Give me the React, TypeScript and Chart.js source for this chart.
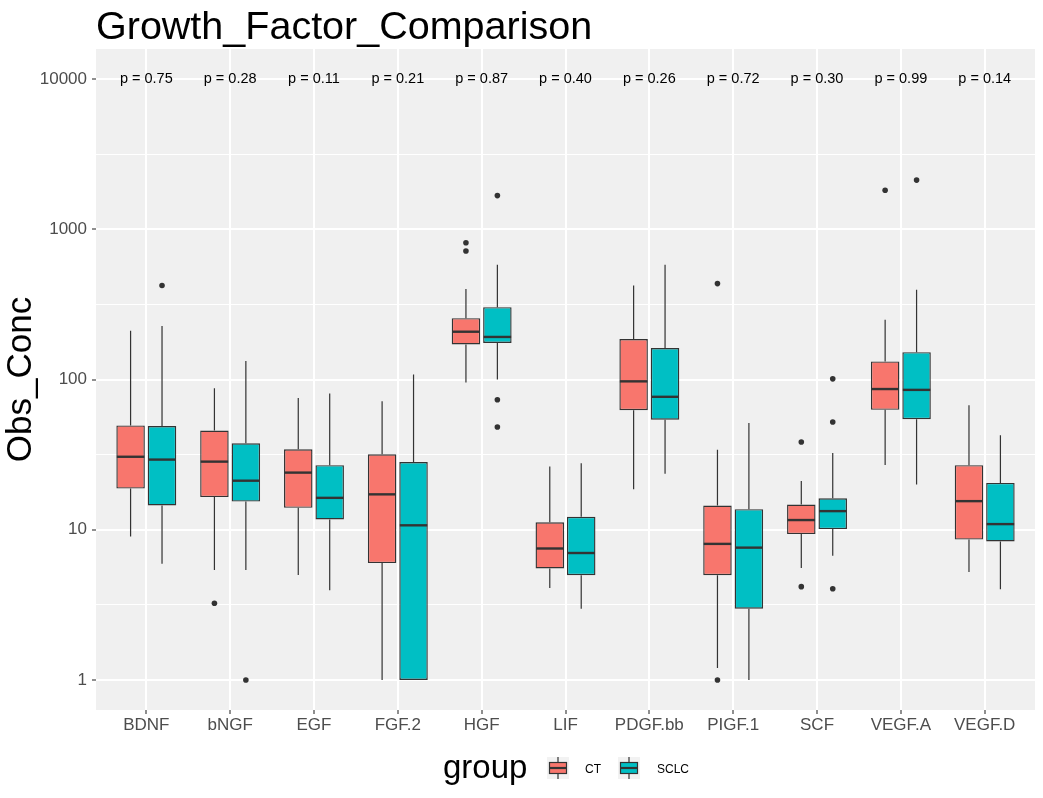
import React, { useEffect, useRef } from 'react';
import { Chart, registerables } from 'chart.js';

Chart.register(...registerables);

// ---------------- data ----------------
const CATEGORIES = ['BDNF', 'bNGF', 'EGF', 'FGF.2', 'HGF', 'LIF', 'PDGF.bb', 'PIGF.1', 'SCF', 'VEGF.A', 'VEGF.D'];
const P_LABELS = ['p = 0.75', 'p = 0.28', 'p = 0.11', 'p = 0.21', 'p = 0.87', 'p = 0.40', 'p = 0.26', 'p = 0.72', 'p = 0.30', 'p = 0.99', 'p = 0.14'];
const P_LABEL_VALUE = 10000;

const CT_LOW = [9.0, 5.4, 5.0, 1.0, 95.4, 4.1, 18.6, 1.2, 5.57, 27.0, 5.23];
const CT_Q1 = [18.8, 16.5, 14.0, 6.0, 171, 5.53, 62.4, 4.98, 9.35, 62.8, 8.6];
const CT_MEDIAN = [30.6, 28.4, 24.0, 17.2, 208, 7.5, 97.2, 8.05, 11.6, 86.4, 15.5];
const CT_Q3 = [49.5, 45.7, 34.3, 31.8, 256, 11.2, 186, 14.5, 14.7, 132, 26.9];
const CT_HIGH = [211, 87.5, 75.3, 71.6, 401, 26.4, 422, 34.1, 21.1, 250, 67.3];
const CT_OUTLIERS = [[], [3.24], [], [], [813, 717], [], [], [435, 1], [38.4, 4.18], [1820], []];

const SCLC_LOW = [5.93, 5.4, 3.95, 1, 100, 2.98, 23.6, 1, 6.7, 20.0, 4.02];
const SCLC_Q1 = [14.5, 15.4, 11.7, 1, 175, 4.98, 54.0, 2.98, 10.1, 54.4, 8.36];
const SCLC_MEDIAN = [29.3, 21.2, 16.3, 10.7, 192, 7.0, 76.7, 7.6, 13.3, 85.3, 10.9];
const SCLC_Q3 = [49, 37.6, 26.9, 28.2, 303, 12.2, 162, 13.7, 16.2, 152, 20.5];
const SCLC_HIGH = [227, 133, 80.6, 108, 580, 27.7, 580, 51.4, 32.4, 396, 42.6];
const SCLC_OUTLIERS = [[422], [1], [], [], [1676, 73.4, 48.3], [], [], [], [101, 52.1, 4.05], [2125], []];

const GROUPS = ['CT', 'SCLC'];
const MAJOR_TICKS = [1, 10, 100, 1000, 10000];
const MINOR_TICKS = [3.1623, 31.623, 316.23, 3162.3];
const Y_MIN = 0.631;
const Y_MAX = 15849;
const X_MIN = 0.4;
const X_MAX = 11.6;

const TITLE = 'Growth_Factor_Comparison';
const Y_TITLE = 'Obs_Conc';
const LEGEND_TITLE = 'group';

// ---------------- style ----------------
const FONT = '"Liberation Sans", Arial, Helvetica, sans-serif';
const COLORS = ['#F8766D', '#00BFC4'];
const LINE = '#333333';
const PANEL_BG = '#F0F0F0';
const AXIS_TEXT = '#4D4D4D';

const SERIES = [
  { low: CT_LOW, q1: CT_Q1, med: CT_MEDIAN, q3: CT_Q3, high: CT_HIGH, out: CT_OUTLIERS },
  { low: SCLC_LOW, q1: SCLC_Q1, med: SCLC_MEDIAN, q3: SCLC_Q3, high: SCLC_HIGH, out: SCLC_OUTLIERS },
];

const isMajor = (v: number) => MAJOR_TICKS.some((m) => Math.abs(m - v) / m < 1e-6);

const boxPlugin = {
  id: 'boxExtras',
  beforeDraw(chart: any) {
    const { ctx, chartArea: a } = chart;
    ctx.save();
    ctx.fillStyle = '#FFFFFF';
    ctx.fillRect(0, 0, chart.width, chart.height);
    ctx.fillStyle = PANEL_BG;
    ctx.fillRect(a.left, a.top, a.right - a.left, a.bottom - a.top);
    ctx.restore();
  },
  beforeDatasetsDraw(chart: any) {
    const { ctx } = chart;
    const y = chart.scales.y;
    ctx.save();
    ctx.strokeStyle = LINE;
    ctx.lineWidth = 1.2;
    SERIES.forEach((s, di) => {
      const meta = chart.getDatasetMeta(di);
      meta.data.forEach((el: any, i: number) => {
        ctx.beginPath();
        ctx.moveTo(el.x, y.getPixelForValue(s.q3[i]));
        ctx.lineTo(el.x, y.getPixelForValue(s.high[i]));
        ctx.moveTo(el.x, y.getPixelForValue(s.q1[i]));
        ctx.lineTo(el.x, y.getPixelForValue(s.low[i]));
        ctx.stroke();
      });
    });
    ctx.restore();
  },
  afterDatasetsDraw(chart: any) {
    const { ctx } = chart;
    const x = chart.scales.x;
    const y = chart.scales.y;
    ctx.save();
    SERIES.forEach((s, di) => {
      const meta = chart.getDatasetMeta(di);
      meta.data.forEach((el: any, i: number) => {
        const half = el.width / 2;
        const ym = y.getPixelForValue(s.med[i]);
        ctx.strokeStyle = LINE;
        ctx.lineWidth = 2.4;
        ctx.beginPath();
        ctx.moveTo(el.x - half + 0.5, ym);
        ctx.lineTo(el.x + half - 0.5, ym);
        ctx.stroke();
        ctx.fillStyle = LINE;
        s.out[i].forEach((v: number) => {
          ctx.beginPath();
          ctx.arc(el.x, y.getPixelForValue(v), 2.8, 0, Math.PI * 2);
          ctx.fill();
        });
      });
    });
    // p-value labels
    ctx.fillStyle = '#000000';
    ctx.font = `14.5px ${FONT}`;
    ctx.textAlign = 'center';
    ctx.textBaseline = 'middle';
    P_LABELS.forEach((t, i) => {
      ctx.fillText(t, x.getPixelForValue(i + 1), y.getPixelForValue(P_LABEL_VALUE));
    });
    ctx.restore();
  },
  afterDraw(chart: any) {
    const { ctx } = chart;
    ctx.save();
    // title
    ctx.fillStyle = '#000000';
    ctx.font = `39.5px ${FONT}`;
    ctx.textAlign = 'left';
    ctx.textBaseline = 'alphabetic';
    ctx.fillText(TITLE, 96, 38.5);
    // legend
    ctx.font = `33px ${FONT}`;
    ctx.fillText(LEGEND_TITLE, 443, 778);
    const keyX = [547, 618];
    const textX = [585, 657];
    GROUPS.forEach((g, gi) => {
      const kx = keyX[gi];
      ctx.fillStyle = '#F2F2F2';
      ctx.fillRect(kx, 757, 22, 22);
      ctx.strokeStyle = LINE;
      ctx.lineWidth = 1.2;
      ctx.beginPath();
      ctx.moveTo(kx + 11, 757);
      ctx.lineTo(kx + 11, 762.5);
      ctx.moveTo(kx + 11, 773.5);
      ctx.lineTo(kx + 11, 779);
      ctx.stroke();
      ctx.fillStyle = COLORS[gi];
      ctx.fillRect(kx + 2.5, 762.5, 17, 11);
      ctx.strokeRect(kx + 2.5, 762.5, 17, 11);
      ctx.lineWidth = 2.2;
      ctx.beginPath();
      ctx.moveTo(kx + 2.5, 768);
      ctx.lineTo(kx + 19.5, 768);
      ctx.stroke();
      ctx.fillStyle = '#000000';
      ctx.font = `12px ${FONT}`;
      ctx.textBaseline = 'alphabetic';
      ctx.fillText(g, textX[gi], 772.5);
    });
    ctx.restore();
  },
};

export default function App() {
  const ref = useRef<HTMLCanvasElement | null>(null);

  useEffect(() => {
    document.body.style.margin = '0';
    const canvas = ref.current;
    if (!canvas) return;

    const datasets = SERIES.map((s, di) => ({
      type: 'bar' as const,
      label: GROUPS[di],
      data: CATEGORIES.map((_, i) => ({ x: i + 1, y: [s.q1[i], s.q3[i]] })),
      backgroundColor: COLORS[di],
      borderColor: LINE,
      borderWidth: 1.4,
      borderSkipped: false as const,
      categoryPercentage: 0.75,
      barPercentage: 0.906,
    }));

    const chart = new Chart(canvas, {
      type: 'bar',
      data: { datasets },
      plugins: [boxPlugin],
      options: {
        animation: false,
        responsive: false,
        devicePixelRatio: 1,
        events: [],
        layout: { padding: { top: 49, right: 8, left: 0, bottom: 0 } },
        plugins: {
          legend: { display: false },
          title: { display: false },
          tooltip: { enabled: false },
        },
        scales: {
          x: {
            type: 'linear',
            min: X_MIN,
            max: X_MAX,
            offset: false,
            bounds: 'data',
            afterBuildTicks: (scale: any) => {
              scale.ticks = CATEGORIES.map((_, i) => ({ value: i + 1 }));
            },
            afterFit: (scale: any) => {
              scale.height = 88;
            },
            border: { display: false },
            grid: {
              offset: false,
              color: '#FFFFFF',
              lineWidth: 2,
              drawTicks: true,
              tickLength: 4,
              tickColor: LINE,
              tickWidth: 1.1,
            },
            ticks: {
              autoSkip: false,
              maxRotation: 0,
              padding: 1,
              color: AXIS_TEXT,
              font: { family: FONT, size: 17 },
              callback: (v: any) => CATEGORIES[Math.round(Number(v)) - 1] ?? '',
            },
          },
          y: {
            type: 'logarithmic',
            min: Y_MIN,
            max: Y_MAX,
            bounds: 'data',
            afterBuildTicks: (scale: any) => {
              scale.ticks = [...MAJOR_TICKS, ...MINOR_TICKS]
                .sort((a, b) => a - b)
                .map((v) => ({ value: v }));
            },
            afterFit: (scale: any) => {
              scale.width = 96;
            },
            border: { display: false },
            grid: {
              color: '#FFFFFF',
              lineWidth: (c: any) => (c.tick && isMajor(c.tick.value) ? 2 : 1),
              drawTicks: true,
              tickLength: 4,
              tickColor: (c: any) => (c.tick && isMajor(c.tick.value) ? LINE : 'rgba(0,0,0,0)'),
              tickWidth: 1.1,
            },
            ticks: {
              autoSkip: false,
              padding: 5,
              color: AXIS_TEXT,
              font: { family: FONT, size: 17 },
              callback: (v: any) => (isMajor(Number(v)) ? String(Math.round(Number(v))) : ''),
            },
            title: {
              display: true,
              text: Y_TITLE,
              color: '#000000',
              font: { family: FONT, size: 35 },
              padding: { top: 0, bottom: 0 },
            },
          },
        },
      } as any,
    });

    return () => chart.destroy();
  }, []);

  return <canvas ref={ref} width={1043} height={798} style={{ display: 'block', width: 1043, height: 798 }} />;
}
